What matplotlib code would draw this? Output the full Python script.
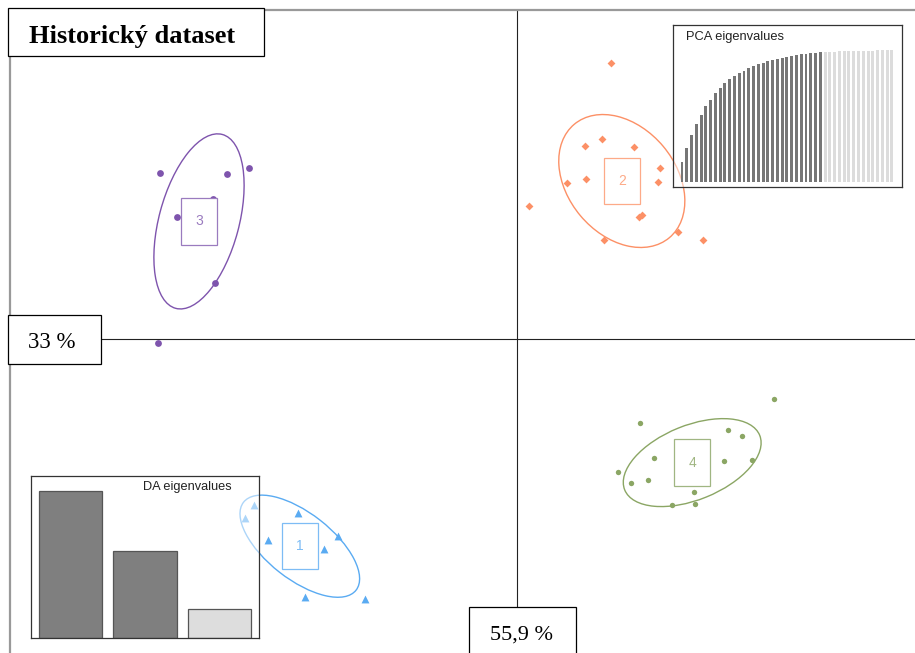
import matplotlib.pyplot as plt
from matplotlib.patches import Ellipse, Rectangle
import numpy as np

# DA scores (LD1, LD2) per group
g1_x = [-6.57, -6.80, -5.48, -6.22, -4.47, -4.82, -5.29, -3.80]
g1_y = [-4.15, -4.48, -4.36, -5.03, -4.93, -5.26, -6.44, -6.50]
g2_x = [2.34, 2.13, 1.70, 2.93, 3.57, 3.52, 1.73, 1.26, 0.30, 3.06, 3.13, 2.18, 4.03, 4.66]
g2_y = [6.89, 4.99, 4.83, 4.81, 4.27, 3.93, 3.99, 3.91, 3.33, 3.06, 3.10, 2.48, 2.67, 2.48]
g3_x = [-8.92, -7.26, -6.70, -8.51, -7.59, -7.55, -8.97]
g3_y = [4.16, 4.13, 4.28, 3.04, 3.51, 1.39, -0.11]
g4_x = [6.43, 3.08, 5.28, 5.63, 3.43, 5.18, 5.87, 2.53, 2.86, 3.28, 4.43, 3.87, 4.45]
g4_y = [-1.50, -2.09, -2.28, -2.43, -2.98, -3.06, -3.03, -3.33, -3.60, -3.53, -3.83, -4.15, -4.13]

groups = ['1', '2', '3', '4']
# group centres and inertia ellipses (half axes, angle in degrees)
ell_cx = [-5.43, 2.62, -7.95, 4.38]
ell_cy = [-5.18, 3.95, 2.94, -3.09]
ell_a = [1.785, 1.85, 2.25, 1.82]
ell_b = [0.825, 1.35, 1.00, 0.93]
ell_ang = [-38, -50, 75, 22]

da_eig = [147, 87, 29]
pca_cum = [0.151, 0.257, 0.358, 0.441, 0.511, 0.572, 0.622, 0.673, 0.713, 0.753,
           0.781, 0.806, 0.826, 0.844, 0.861, 0.877, 0.892, 0.904, 0.914, 0.924,
           0.934, 0.942, 0.950, 0.957, 0.962, 0.967, 0.972, 0.977, 0.980, 0.982,
           0.984, 0.986, 0.988, 0.989, 0.990, 0.991, 0.992, 0.993, 0.994, 0.995,
           0.996, 0.997, 0.998, 0.999, 1.000]
n_retained = 30

title = 'Historický dataset'
x_lab = '55,9 %'
y_lab = '33 %'

cols = ['#5aabf2', '#fc9066', '#7e54ad', '#8ba664']
lab_cols = ['#7dbcf5', '#fdaa88', '#9a7bbf', '#a0b682']
markers = ['^', 'D', 'o', 'o']
sizes = [32, 16, 24, 15]

fig = plt.figure(figsize=(9.15, 6.53), dpi=100)
W, H = 915, 653
S = 40.0  # px per unit

ax = fig.add_axes([10 / W, 0, (W - 10) / W, (H - 10) / H])
ax.set_xlim((10 - 517) / S, (W - 517) / S)
ax.set_ylim((339 - H) / S, (339 - 10) / S)
ax.set_xticks([])
ax.set_yticks([])
for s in ['right', 'bottom']:
    ax.spines[s].set_visible(False)
for s in ['top', 'left']:
    ax.spines[s].set_color('#999999')
    ax.spines[s].set_linewidth(1.6)
ax.axhline(0, color='#222222', lw=0.8, zorder=1)
ax.axvline(0, color='#222222', lw=0.8, zorder=1)

xs = [g1_x, g2_x, g3_x, g4_x]
ys = [g1_y, g2_y, g3_y, g4_y]
bw, bh = 0.91, 1.16
for i in range(4):
    ax.scatter(xs[i], ys[i], marker=markers[i], s=sizes[i], color=cols[i],
               linewidths=0, zorder=2)
    ax.add_patch(Ellipse((ell_cx[i], ell_cy[i]), 2 * ell_a[i], 2 * ell_b[i],
                         angle=ell_ang[i], fill=False, ec=cols[i], lw=1.0, zorder=2))
    ax.add_patch(Rectangle((ell_cx[i] - bw / 2, ell_cy[i] - bh / 2), bw, bh,
                           fc='white', ec=lab_cols[i], lw=0.9, zorder=3))
    ax.text(ell_cx[i], ell_cy[i], groups[i], color=lab_cols[i], fontsize=10,
            family='Liberation Sans', ha='center', va='center', zorder=4)

# PCA eigenvalues inset
ax_pca = fig.add_axes([673 / W, 1 - 187 / H, 229 / W, 162 / H])
ax_pca.set_facecolor((1, 1, 1, 0.5))
pos = np.arange(1, len(pca_cum) + 1)
pc = ['#767676' if k <= n_retained else '#dcdcdc' for k in pos]
ax_pca.bar(pos, pca_cum, width=0.62, color=pc, linewidth=0)
ax_pca.set_xlim(1 - 9 / 4.77, 1 + 220 / 4.77)
ax_pca.set_ylim(-5 / 132, 157 / 132)
ax_pca.set_xticks([])
ax_pca.set_yticks([])
for s in ax_pca.spines.values():
    s.set_color('#333333')
    s.set_linewidth(0.9)
ax_pca.text(0.057, 0.925, 'PCA eigenvalues', transform=ax_pca.transAxes,
            fontsize=9.3, family='Liberation Sans', color='#222222',
            ha='left', va='center')

# DA eigenvalues inset
ax_da = fig.add_axes([31 / W, 1 - 638 / H, 228 / W, 162 / H])
ax_da.set_facecolor((1, 1, 1, 0.5))
ax_da.bar(range(len(da_eig)), da_eig, width=0.846,
          color=['#7f7f7f', '#7f7f7f', '#dddddd'], edgecolor='#555555', linewidth=0.9)
ax_da.set_xlim(-39.5 / 74.5, 188.5 / 74.5)
ax_da.set_ylim(0, 162)
ax_da.set_xticks([])
ax_da.set_yticks([])
for s in ax_da.spines.values():
    s.set_color('#333333')
    s.set_linewidth(0.9)
ax_da.text(0.49, 0.93, 'DA eigenvalues', transform=ax_da.transAxes,
           fontsize=9.2, family='Liberation Sans', color='#222222',
           ha='left', va='center')

# overlay for the label boxes
ov = fig.add_axes([0, 0, 1, 1])
ov.set_xlim(0, W)
ov.set_ylim(H, 0)
ov.axis('off')
ov.patch.set_alpha(0)
for (x0, y0, w, h) in [(8, 8, 256, 48), (8, 315, 93, 49), (469, 607, 107, 60)]:
    ov.add_patch(Rectangle((x0, y0), w, h, fc='white', ec='black', lw=0.9))
ov.text(29, 43.5, title, fontsize=19, fontweight='bold', family='Liberation Serif',
        ha='left', va='baseline')
ov.text(28.5, 348, y_lab, fontsize=16.5, family='Liberation Serif',
        ha='left', va='baseline')
ov.text(490, 640, x_lab, fontsize=16, family='Liberation Serif',
        ha='left', va='baseline')

fig.savefig('out.png', dpi=100)
